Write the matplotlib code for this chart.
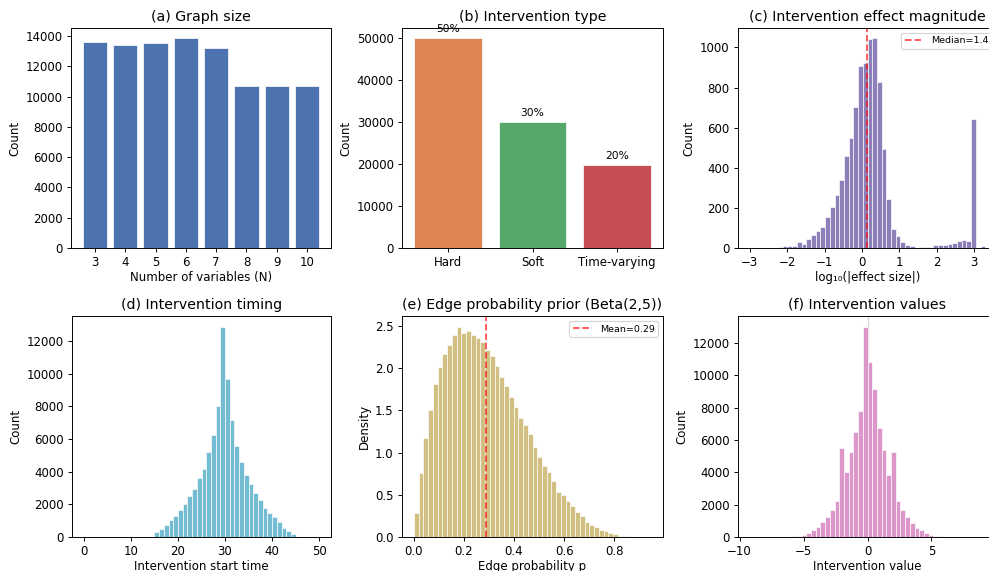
import numpy as np
import matplotlib
matplotlib.use("Agg")
import matplotlib.pyplot as plt

# ---------------- data ----------------
graph_sizes = [3, 4, 5, 6, 7, 8, 9, 10]
graph_counts = [13570, 13430, 13520, 13830, 13190, 10700, 10680, 10720]

int_types = ["Hard", "Soft", "Time-varying"]
int_type_counts = [50000, 30000, 19700]
int_type_pct = ["50%", "30%", "20%"]

# (c) log10(|effect size|) histogram, 50 bins
eff_range = (-3.0, 3.3)
eff_counts = [1, 0, 0, 0, 1, 2, 4, 12, 12, 8,
              30, 22, 43, 65, 87, 105, 155, 202, 265, 338,
              458, 548, 702, 908, 925, 1040, 1045, 828, 493, 242,
              97, 58, 30, 17, 10, 0, 6, 6, 5, 17,
              14, 13, 20, 24, 37, 38, 37, 642, 0, 8]
eff_median = 1.4

# (d) intervention start time (unit bins)
time_range = (0, 50)
time_bins = list(range(15, 45))
time_counts = [287, 513, 738, 1046, 1272, 1641, 1990, 2482, 2954, 3610,
               4185, 5210, 6236, 8041, 12882, 9682, 7180, 5559, 4595, 3795,
               3241, 2667, 2236, 1805, 1456, 1231, 903, 574, 390, 164]

# (e) Beta(2,5) edge probabilities, density, 50 bins
edge_range = (0.001, 0.946)
edge_density = [0.286, 0.754, 1.175, 1.508, 1.813, 2.012, 2.163, 2.274, 2.389, 2.492,
                2.421, 2.444, 2.397, 2.357, 2.313, 2.214, 2.139, 2.020, 1.897, 1.790,
                1.663, 1.540, 1.413, 1.325, 1.214, 1.063, 0.952, 0.837, 0.766, 0.667,
                0.536, 0.496, 0.425, 0.365, 0.298, 0.254, 0.183, 0.143, 0.115, 0.087,
                0.067, 0.044, 0.032, 0.016, 0.012, 0.008, 0.004, 0.002, 0.001, 0.001]
edge_mean = 0.29

# (f) intervention values, 50 bins
val_range = (-9.2, 9.2)
val_counts = [1, 0, 0, 0, 0, 0, 0, 0, 10, 35,
              80, 145, 250, 415, 620, 910, 1245, 1700, 2220, 5530,
              4040, 5265, 6470, 7810, 13015, 10820, 9180, 6715, 5390, 3855,
              5245, 2200, 1660, 1245, 870, 580, 415, 250, 145, 80,
              35, 10, 0, 0, 0, 0, 0, 0, 0, 1]

# ---------------- style ----------------
DPI = 85
W, H = 989, 571
plt.rcParams.update({
    "font.family": ["DejaVu Sans"],
    "font.size": 10,
    "axes.titlesize": 12,
    "axes.labelsize": 10,
    "xtick.labelsize": 10,
    "ytick.labelsize": 10,
    "axes.labelpad": 1.5,
})

fig = plt.figure(figsize=(W / DPI, H / DPI), dpi=DPI)


def add_ax(x0, y0, x1, y1):
    return fig.add_axes([x0 / W, (H - y1) / H, (x1 - x0) / W, (y1 - y0) / H])


axA = add_ax(71, 28, 331, 248)
axB = add_ax(402, 28, 663, 248)
axC = add_ax(738, 28, 997, 248)
axD = add_ax(72, 316, 331, 537)
axE = add_ax(402, 316, 663, 537)
axF = add_ax(738, 316, 997, 537)


def hist_bars(ax, rng, counts, color):
    edges = np.linspace(rng[0], rng[1], len(counts) + 1)
    ax.bar(edges[:-1], counts, width=np.diff(edges), align="edge",
           color=color, edgecolor="white", linewidth=0.6, alpha=0.9)


# (a)
axA.bar(graph_sizes, graph_counts, width=0.8, color="#4C72B0",
        edgecolor="white", linewidth=0.6)
axA.set_xticks(graph_sizes)
axA.set_xlabel("Number of variables (N)")
axA.set_ylabel("Count", labelpad=4)
axA.set_title("(a) Graph size")

# (b)
xb = np.arange(len(int_types))
axB.bar(xb, int_type_counts, width=0.8,
        color=["#DD8452", "#55A868", "#C44E52"], edgecolor="white", linewidth=0.6)
for xi, c, p in zip(xb, int_type_counts, int_type_pct):
    axB.text(xi, c + 1000, p, ha="center", va="bottom", fontsize=9)
axB.set_xticks(xb)
axB.set_xticklabels(int_types)
axB.set_ylabel("Count", labelpad=4)
axB.set_title("(b) Intervention type")

# (c)
hist_bars(axC, eff_range, eff_counts, "#8172B3")
axC.axvline(np.log10(eff_median), color="red", linestyle="--", alpha=0.7,
            linewidth=1.5, label=f"Median={eff_median}")
axC.legend(loc="upper right", fontsize=8)
axC.set_xlabel("log\u2081\u2080(|effect size|)")
axC.set_ylabel("Count", labelpad=4)
axC.set_title("(c) Intervention effect magnitude")

# (d)
axD.bar(time_bins, time_counts, width=1.0, align="edge", color="#64B5CD",
        edgecolor="white", linewidth=0.6, alpha=0.9)
axD.set_xlim(time_range[0] - 2.5, time_range[1] + 2.5)
axD.set_xlabel("Intervention start time")
axD.set_ylabel("Count", labelpad=4)
axD.set_title("(d) Intervention timing")

# (e)
hist_bars(axE, edge_range, edge_density, "#CCB974")
axE.axvline(edge_mean, color="red", linestyle="--", alpha=0.7,
            linewidth=1.5, label=f"Mean={edge_mean}")
axE.legend(loc="upper right", fontsize=8)
axE.set_xlabel("Edge probability p")
axE.set_ylabel("Density", labelpad=4)
axE.set_title("(e) Edge probability prior (Beta(2,5))")

# (f)
hist_bars(axF, val_range, val_counts, "#DA8BC3")
axF.axvline(0, color="gray", alpha=0.3, linewidth=1.2, zorder=0)
axF.set_xlabel("Intervention value")
axF.set_ylabel("Count", labelpad=4)
axF.set_title("(f) Intervention values")

fig.savefig("out.png", dpi=DPI)
